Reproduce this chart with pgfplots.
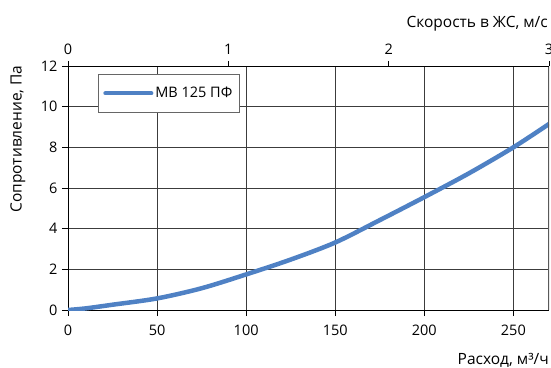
\documentclass[border=0pt]{standalone}
\usepackage{fontspec}
\setmainfont{Open Sans}
\usepackage{pgfplots}
\pgfplotsset{compat=1.18}
\definecolor{curve}{RGB}{79,129,196}
\definecolor{gridc}{RGB}{60,60,60}
\begin{document}
\begin{tikzpicture}
\path[use as bounding box] (-68pt,-57pt) rectangle (483pt,310pt);
\begin{axis}[
  at={(0pt,0pt)}, anchor=origin,
  scale only axis, width=481pt, height=244pt,
  xmin=0, xmax=270, ymin=0, ymax=12,
  xtick={0,50,100,150,200,250}, ytick={0,2,4,6,8,10,12},
  axis x line*=bottom, axis y line*=left,
  grid=major, grid style={gridc, line width=0.8pt},
  axis line style={black, line width=0.9pt},
  tick style={black, line width=0.8pt},
  tick align=outside, major tick length=6pt,
  tick label style={font=\fontsize{14.5}{16}\selectfont},
  /pgf/number format/assume math mode=true,
  xticklabel style={yshift=-5pt},
  yticklabel style={xshift=-1pt},
  legend style={at={(30pt,236pt)}, anchor=north west, draw=gray!80!black, line width=0.7pt,
    font=\fontsize{14.5}{16}\selectfont, inner xsep=5pt, inner ysep=11pt, row sep=0pt},
  legend image code/.code={\draw[#1, line width=4pt, line cap=round] (0pt,0pt) -- (46pt,0pt);},
  legend cell align=left,
]
\addplot[curve, line width=4.5pt, smooth, tension=0.5] coordinates {
(0,0) (10,0.08) (25,0.26) (50,0.57) (75,1.07) (100,1.75) (125,2.48) (150,3.32) (175,4.42) (200,5.55) (225,6.72) (250,8.0) (270,9.15)
};
\addlegendentry{МВ 125 ПФ}
\draw[gray!70!black, line width=1.2pt] (rel axis cs:1,0) -- (rel axis cs:1,1);
\draw[black, line width=0.9pt] (rel axis cs:0,1) -- (rel axis cs:1,1);
\end{axis}
\begin{axis}[
  at={(0pt,0pt)}, anchor=origin,
  scale only axis, width=481pt, height=244pt,
  xmin=0, xmax=3, ymin=0, ymax=12,
  axis x line*=top, axis y line=none,
  xtick={0,1,2,3},
  axis line style={draw=none},
  tick style={black, line width=0.8pt},
  tick align=outside, major tick length=5pt,
  tick label style={font=\fontsize{14.5}{16}\selectfont},
  xticklabel style={yshift=3pt},
  /pgf/number format/assume math mode=true,
]
\end{axis}
\node[anchor=base east, font=\fontsize{15.5}{17}\selectfont, inner sep=0pt] at (481pt,-54pt) {Расход, м³/ч};
\node[anchor=base east, font=\fontsize{15.5}{17}\selectfont, inner sep=0pt] at (480pt,282pt) {Скорость в ЖС, м/с};
\node[rotate=90, anchor=center, font=\fontsize{15.5}{17}\selectfont, inner sep=0pt] at (-50pt,171pt) {Сопротивление, Па};
\end{tikzpicture}
\end{document}
